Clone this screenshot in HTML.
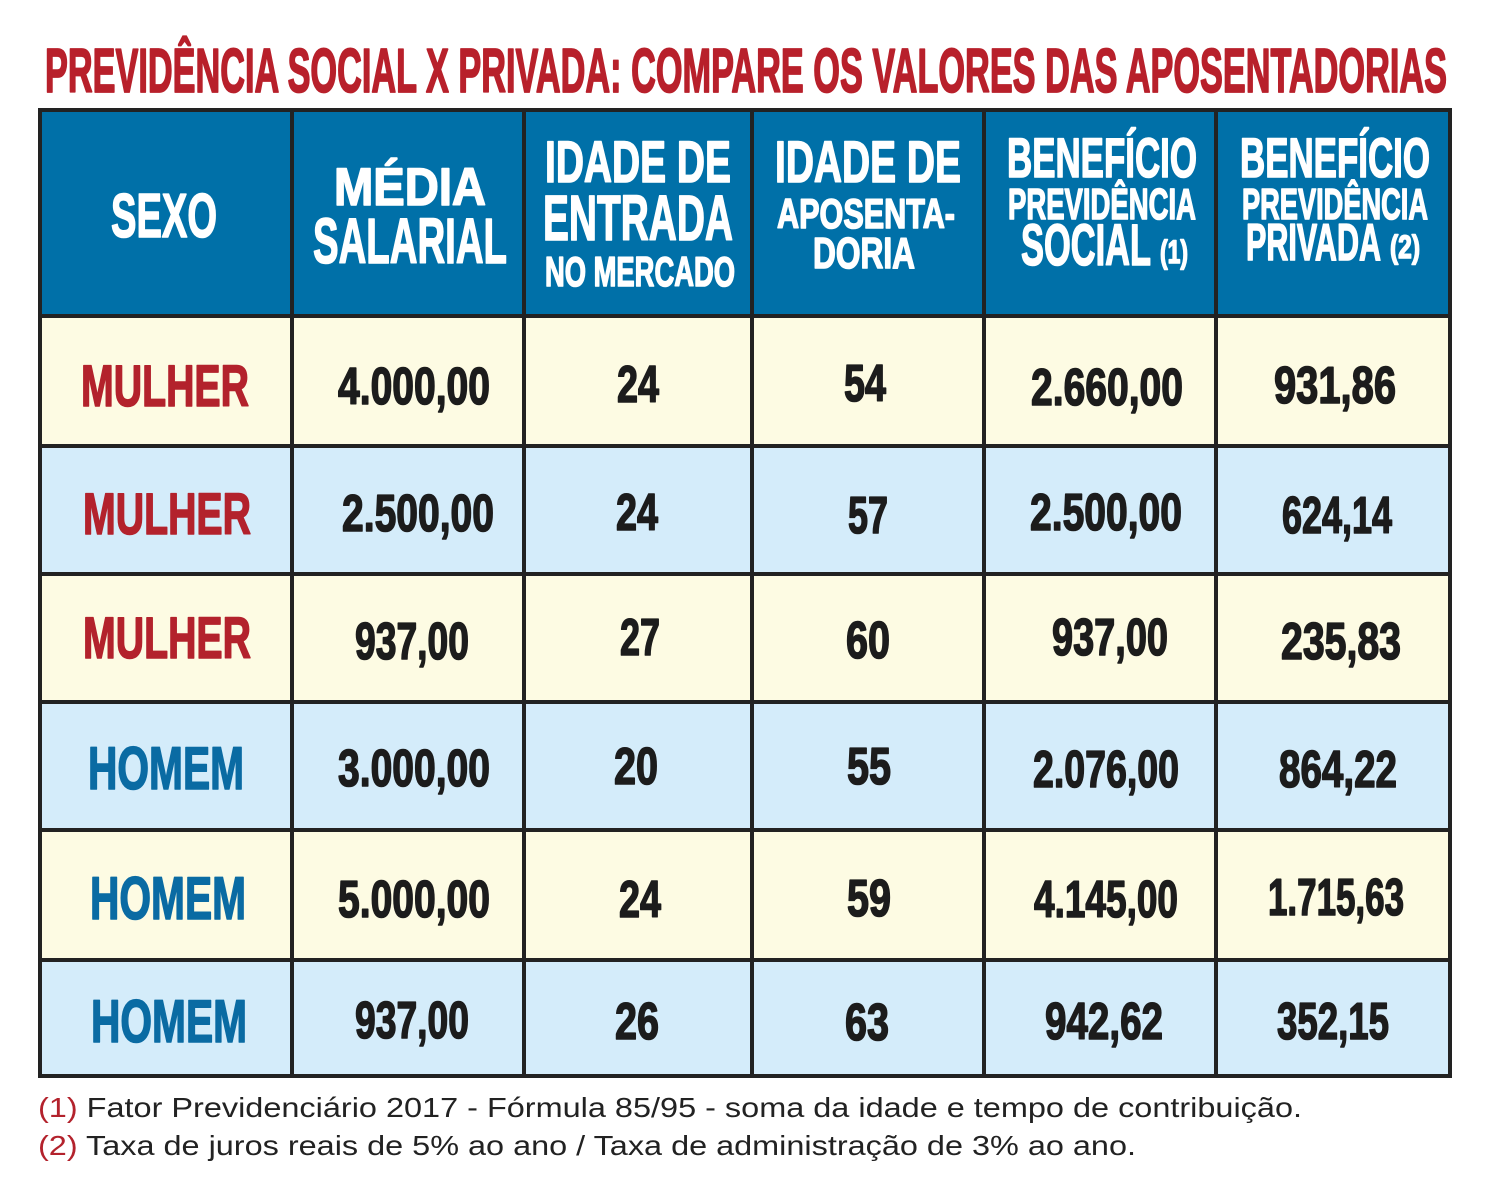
<!DOCTYPE html>
<html><head><meta charset="utf-8"><style>
html,body{margin:0;padding:0;background:#fff;width:1506px;height:1200px;overflow:hidden}
svg text{font-family:"Liberation Sans Narrow","Liberation Sans",sans-serif;font-weight:bold;stroke-width:1.6;stroke-linejoin:round}
.h{fill:#fff;stroke:#fff}.n{fill:#1c1c1c;stroke:#1c1c1c}.r{fill:#b3222c;stroke:#b3222c}.b{fill:#0a6ba3;stroke:#0a6ba3}
.t{fill:#b8202b;stroke:#b8202b;stroke-width:1.8}
.f{font-family:"Liberation Sans",sans-serif !important;font-weight:normal !important;fill:#222;stroke:none}
</style></head><body>
<svg width="1506" height="1200" viewBox="0 0 1506 1200" xmlns="http://www.w3.org/2000/svg">
<text class="t" x="45" y="92" font-size="62" textLength="1402" lengthAdjust="spacingAndGlyphs">PREVIDÊNCIA SOCIAL X PRIVADA: COMPARE OS VALORES DAS APOSENTADORIAS</text>
<rect x="38" y="108" width="1414" height="208" fill="#0070a8"/>
<rect x="38" y="316" width="1414" height="130" fill="#fdfbe3"/>
<rect x="38" y="446" width="1414" height="128" fill="#d4ecfa"/>
<rect x="38" y="574" width="1414" height="128" fill="#fdfbe3"/>
<rect x="38" y="702" width="1414" height="128" fill="#d4ecfa"/>
<rect x="38" y="830" width="1414" height="130" fill="#fdfbe3"/>
<rect x="38" y="960" width="1414" height="118" fill="#d4ecfa"/>
<g stroke="#222" stroke-width="4">
<rect x="40" y="110" width="1410" height="966" fill="none"/>
<line x1="292" y1="108" x2="292" y2="1078"/><line x1="524" y1="108" x2="524" y2="1078"/>
<line x1="752" y1="108" x2="752" y2="1078"/><line x1="984" y1="108" x2="984" y2="1078"/>
<line x1="1216" y1="108" x2="1216" y2="1078"/>
<line x1="38" y1="316" x2="1452" y2="316"/><line x1="38" y1="446" x2="1452" y2="446"/>
<line x1="38" y1="574" x2="1452" y2="574"/><line x1="38" y1="702" x2="1452" y2="702"/>
<line x1="38" y1="830" x2="1452" y2="830"/><line x1="38" y1="960" x2="1452" y2="960"/>
</g>
<g text-anchor="middle">
<text class="h" x="164" y="237" font-size="62" textLength="106" lengthAdjust="spacingAndGlyphs">SEXO</text>
<text class="h" x="410" y="205" font-size="53" textLength="152" lengthAdjust="spacingAndGlyphs">MÉDIA</text>
<text class="h" x="410" y="263" font-size="64" textLength="194" lengthAdjust="spacingAndGlyphs">SALARIAL</text>
<text class="h" x="638" y="182" font-size="58" textLength="186" lengthAdjust="spacingAndGlyphs">IDADE DE</text>
<text class="h" x="638" y="240" font-size="64" textLength="190" lengthAdjust="spacingAndGlyphs">ENTRADA</text>
<text class="h" x="640" y="286" font-size="42" textLength="190" lengthAdjust="spacingAndGlyphs">NO MERCADO</text>
<text class="h" x="868" y="182" font-size="58" textLength="186" lengthAdjust="spacingAndGlyphs">IDADE DE</text>
<text class="h" x="866" y="228" font-size="42" textLength="178" lengthAdjust="spacingAndGlyphs">APOSENTA-</text>
<text class="h" x="864" y="268" font-size="44" textLength="102" lengthAdjust="spacingAndGlyphs">DORIA</text>
<text class="h" x="1102" y="177" font-size="56" textLength="190" lengthAdjust="spacingAndGlyphs">BENEFÍCIO</text>
<text class="h" x="1102" y="219" font-size="44" textLength="188" lengthAdjust="spacingAndGlyphs">PREVIDÊNCIA</text>
<text class="h" x="1335" y="177" font-size="56" textLength="190" lengthAdjust="spacingAndGlyphs">BENEFÍCIO</text>
<text class="h" x="1335" y="219" font-size="44" textLength="186" lengthAdjust="spacingAndGlyphs">PREVIDÊNCIA</text>
</g>
<text class="h" x="1021" y="265" font-size="58" textLength="130" lengthAdjust="spacingAndGlyphs">SOCIAL</text>
<text class="h" x="1160" y="263" font-size="32" textLength="28" lengthAdjust="spacingAndGlyphs">(1)</text>
<text class="h" x="1246" y="260" font-size="52" textLength="135" lengthAdjust="spacingAndGlyphs">PRIVADA</text>
<text class="h" x="1390" y="258" font-size="32" textLength="30" lengthAdjust="spacingAndGlyphs">(2)</text>
<g text-anchor="middle" font-size="52">
<text class="r" x="165" y="406" textLength="168" font-size="58" lengthAdjust="spacingAndGlyphs">MULHER</text>
<text class="r" x="167" y="534" textLength="168" font-size="58" lengthAdjust="spacingAndGlyphs">MULHER</text>
<text class="r" x="167" y="658" textLength="168" font-size="58" lengthAdjust="spacingAndGlyphs">MULHER</text>
<text class="b" x="166" y="789" textLength="156" font-size="60" lengthAdjust="spacingAndGlyphs">HOMEM</text>
<text class="b" x="168" y="919" textLength="156" font-size="60" lengthAdjust="spacingAndGlyphs">HOMEM</text>
<text class="b" x="169" y="1042" textLength="156" font-size="60" lengthAdjust="spacingAndGlyphs">HOMEM</text>

<text class="n" x="414" y="404" textLength="152" lengthAdjust="spacingAndGlyphs">4.000,00</text>
<text class="n" x="638" y="402" textLength="42" lengthAdjust="spacingAndGlyphs">24</text>
<text class="n" x="865" y="401" textLength="42" lengthAdjust="spacingAndGlyphs">54</text>
<text class="n" x="1107" y="405" textLength="152" lengthAdjust="spacingAndGlyphs">2.660,00</text>
<text class="n" x="1335" y="403" textLength="122" lengthAdjust="spacingAndGlyphs">931,86</text>

<text class="n" x="418" y="531" textLength="152" lengthAdjust="spacingAndGlyphs">2.500,00</text>
<text class="n" x="637" y="530" textLength="42" lengthAdjust="spacingAndGlyphs">24</text>
<text class="n" x="868" y="533" textLength="40" lengthAdjust="spacingAndGlyphs">57</text>
<text class="n" x="1106" y="530" textLength="152" lengthAdjust="spacingAndGlyphs">2.500,00</text>
<text class="n" x="1337" y="533" textLength="110" lengthAdjust="spacingAndGlyphs">624,14</text>

<text class="n" x="412" y="659" textLength="114" lengthAdjust="spacingAndGlyphs">937,00</text>
<text class="n" x="640" y="655" textLength="40" lengthAdjust="spacingAndGlyphs">27</text>
<text class="n" x="868" y="658" textLength="44" lengthAdjust="spacingAndGlyphs">60</text>
<text class="n" x="1110" y="655" textLength="116" lengthAdjust="spacingAndGlyphs">937,00</text>
<text class="n" x="1341" y="659" textLength="120" lengthAdjust="spacingAndGlyphs">235,83</text>

<text class="n" x="414" y="786" textLength="152" lengthAdjust="spacingAndGlyphs">3.000,00</text>
<text class="n" x="636" y="784" textLength="44" lengthAdjust="spacingAndGlyphs">20</text>
<text class="n" x="869" y="784" textLength="44" lengthAdjust="spacingAndGlyphs">55</text>
<text class="n" x="1106" y="787" textLength="146" lengthAdjust="spacingAndGlyphs">2.076,00</text>
<text class="n" x="1338" y="787" textLength="118" lengthAdjust="spacingAndGlyphs">864,22</text>

<text class="n" x="414" y="917" textLength="152" lengthAdjust="spacingAndGlyphs">5.000,00</text>
<text class="n" x="640" y="917" textLength="42" lengthAdjust="spacingAndGlyphs">24</text>
<text class="n" x="869" y="916" textLength="44" lengthAdjust="spacingAndGlyphs">59</text>
<text class="n" x="1106" y="917" textLength="144" lengthAdjust="spacingAndGlyphs">4.145,00</text>
<text class="n" x="1336" y="915" textLength="136" lengthAdjust="spacingAndGlyphs">1.715,63</text>

<text class="n" x="412" y="1038" textLength="114" lengthAdjust="spacingAndGlyphs">937,00</text>
<text class="n" x="637" y="1039" textLength="44" lengthAdjust="spacingAndGlyphs">26</text>
<text class="n" x="867" y="1040" textLength="44" lengthAdjust="spacingAndGlyphs">63</text>
<text class="n" x="1104" y="1039" textLength="118" lengthAdjust="spacingAndGlyphs">942,62</text>
<text class="n" x="1333" y="1039" textLength="112" lengthAdjust="spacingAndGlyphs">352,15</text>
</g>
<text class="f" x="38" y="1117" font-size="28" textLength="1264" lengthAdjust="spacingAndGlyphs"><tspan fill="#b3222c">(1)</tspan> Fator Previdenciário 2017 - Fórmula 85/95 - soma da idade e tempo de contribuição.</text>
<text class="f" x="38" y="1155" font-size="28" textLength="1098" lengthAdjust="spacingAndGlyphs"><tspan fill="#b3222c">(2)</tspan> Taxa de juros reais de 5% ao ano / Taxa de administração de 3% ao ano.</text>
</svg>
</body></html>
